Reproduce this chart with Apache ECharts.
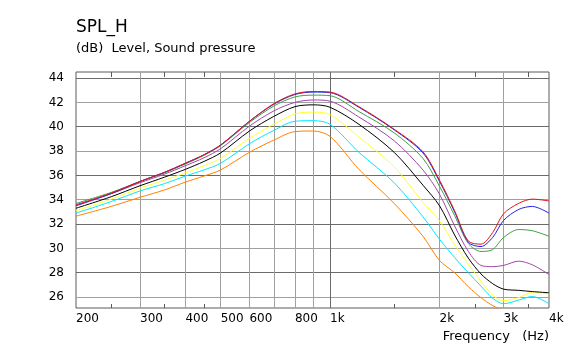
<!DOCTYPE html>
<html>
<head>
<meta charset="utf-8">
<script src="https://cdn.jsdelivr.net/npm/echarts@6/dist/echarts.min.js"></script>
<style>
html,body{margin:0;padding:0;background:#fff;}
#chart{width:578px;height:351px;}
</style>
</head>
<body>
<div id="chart"></div>
<script>
// Frequencies (Hz)
var freqs = [200, 250, 300, 350, 400, 450, 500, 600, 700, 800, 900, 1000, 1200, 1500, 1800, 2000, 2200, 2400, 2600, 2800, 3000, 3300, 3600, 4000];

// SPL values (dB)
var redVals    = [33.55, 34.55, 35.5, 36.25, 37.0, 37.7, 38.5, 40.45, 41.9, 42.7, 42.9, 42.85, 41.65, 39.8, 37.95, 35.6, 33.1, 30.6, 30.35, 31.3, 32.85, 33.7, 34.05, 33.9];
var blueVals   = [33.5, 34.5, 35.5, 36.25, 37.0, 37.7, 38.5, 40.45, 41.85, 42.65, 42.85, 42.8, 41.6, 39.75, 37.85, 35.5, 33.0, 30.5, 30.15, 30.9, 32.3, 33.2, 33.45, 32.9];
var greenVals  = [33.7, 34.6, 35.5, 36.2, 36.95, 37.65, 38.45, 40.35, 41.7, 42.45, 42.6, 42.55, 41.25, 39.5, 37.4, 35.1, 32.7, 30.4, 29.75, 29.9, 30.9, 31.55, 31.45, 31.0];
var purpleVals = [33.6, 34.5, 35.4, 36.1, 36.8, 37.45, 38.2, 40.05, 41.3, 42.0, 42.2, 42.1, 40.8, 38.85, 36.45, 34.45, 31.85, 29.75, 28.6, 28.5, 28.6, 28.95, 28.65, 27.85];
var blackVals  = [33.3, 34.25, 35.15, 35.85, 36.5, 37.15, 37.85, 39.65, 40.85, 41.65, 41.8, 41.6, 40.2, 37.9, 35.2, 33.5, 31.1, 29.2, 27.9, 27.1, 26.65, 26.55, 26.45, 26.35];
var yellowVals = [33.1, 34.05, 34.95, 35.6, 36.2, 36.8, 37.4, 39.05, 40.2, 41.05, 41.2, 41.0, 39.15, 36.7, 33.8, 32.25, 30.3, 28.7, 27.3, 26.15, 25.7, 25.95, 26.4, 26.25];
var cyanVals   = [32.9, 33.85, 34.72, 35.32, 35.95, 36.45, 37.0, 38.6, 39.7, 40.45, 40.5, 40.2, 37.9, 35.4, 32.6, 30.75, 29.25, 28.0, 26.9, 25.9, 25.45, 25.75, 26.05, 25.45];
var orangeVals = [32.65, 33.45, 34.2, 34.8, 35.45, 35.95, 36.45, 37.9, 38.9, 39.6, 39.65, 39.2, 36.5, 33.7, 31.0, 29.0, 28.0, 26.85, 25.95, 25.3, 24.9, 24.7, 24.8, 24.4];

// Axis ticks
var xLabelTicks = [200, 300, 400, 500, 600, 800, 1000, 2000, 3000, 4000];
var xGridTicks = [300, 400, 500, 600, 700, 800, 900, 1000, 2000, 3000];
var xMinorTicks = [250, 350, 450, 1500, 2500, 3500];
var yTicks = [26, 28, 30, 32, 34, 36, 38, 40, 42, 44];

var FONT = 'DejaVu Sans';
function pair(vals) { return freqs.map(function (f, i) { return [f, vals[i]]; }); }

var seriesDefs = [
  { name: 'orange', color: '#ff8000', vals: orangeVals },
  { name: 'cyan', color: '#00e8ff', vals: cyanVals },
  { name: 'yellow', color: '#ffff30', vals: yellowVals },
  { name: 'black', color: '#000000', vals: blackVals },
  { name: 'purple', color: '#a048a8', vals: purpleVals },
  { name: 'green', color: '#40a040', vals: greenVals },
  { name: 'blue', color: '#2020f0', vals: blueVals },
  { name: 'red', color: '#e01818', vals: redVals }
];

var LIGHT = '#a0a0a0', DARK = '#6a6a6a';
var xGridColors = xGridTicks.map(function (v) { return v === 1000 ? DARK : LIGHT; });
var yGridColors = yTicks.map(function (v) { return (v % 4 === 0) ? DARK : LIGHT; });

var chart = echarts.init(document.getElementById('chart'), null, { renderer: 'canvas' });
var logBase = { type: 'log', logBase: 10, min: 200, max: 4000, gridIndex: 0 };

chart.setOption({
  animation: false,
  backgroundColor: '#ffffff',
  title: [
    { text: 'SPL_H', left: 76, top: 19, padding: 0,
      textStyle: { fontFamily: FONT, fontSize: 17, fontWeight: 'normal', color: '#000' } },
    { text: '(dB)  Level, Sound pressure', left: 76, top: 42, padding: 0,
      textStyle: { fontFamily: FONT, fontSize: 13, fontWeight: 'normal', color: '#000' } },
    { text: 'Frequency   (Hz)', right: 29, top: 330, padding: 0,
      textStyle: { fontFamily: FONT, fontSize: 13, fontWeight: 'normal', color: '#000' } }
  ],
  grid: { left: 76, top: 72, width: 473, height: 236, show: true,
          borderColor: '#5a5a5a', borderWidth: 1, backgroundColor: 'transparent' },
  xAxis: [
    Object.assign({}, logBase, {
      position: 'bottom',
      axisLine: { show: false },
      axisTick: { show: false, customValues: xGridTicks },
      splitLine: { show: true, lineStyle: { color: xGridColors, width: 1 } },
      axisLabel: { show: true, customValues: xLabelTicks, align: 'left', margin: 5,
        fontFamily: FONT, fontSize: 12, color: '#000',
        formatter: function (v) { return v >= 1000 ? (v / 1000) + 'k' : String(v); } }
    }),
    Object.assign({}, logBase, {
      position: 'top',
      axisLine: { show: false },
      axisTick: { show: true, inside: true, length: 5, customValues: xMinorTicks,
                  lineStyle: { color: '#5a5a5a' } },
      splitLine: { show: false },
      axisLabel: { show: false }
    }),
    Object.assign({}, logBase, {
      position: 'bottom',
      axisLine: { show: false },
      axisTick: { show: true, inside: true, length: 4, customValues: xMinorTicks,
                  lineStyle: { color: '#5a5a5a' } },
      splitLine: { show: false },
      axisLabel: { show: false }
    })
  ],
  yAxis: {
    type: 'value', min: 25.1, max: 44.5,
    axisLine: { show: false },
    axisTick: { show: false, customValues: yTicks },
    splitLine: { show: true, lineStyle: { color: yGridColors, width: 1 } },
    axisLabel: { customValues: yTicks, margin: 12, fontFamily: FONT, fontSize: 12, color: '#000' }
  },
  series: seriesDefs.map(function (s) {
    return {
      name: s.name, type: 'line', xAxisIndex: 0, yAxisIndex: 0,
      data: pair(s.vals), showSymbol: false, symbol: 'none',
      smooth: 0.3, clip: true,
      lineStyle: { color: s.color, width: 1 },
      emphasis: { disabled: true }
    };
  })
});
</script>
</body>
</html>
